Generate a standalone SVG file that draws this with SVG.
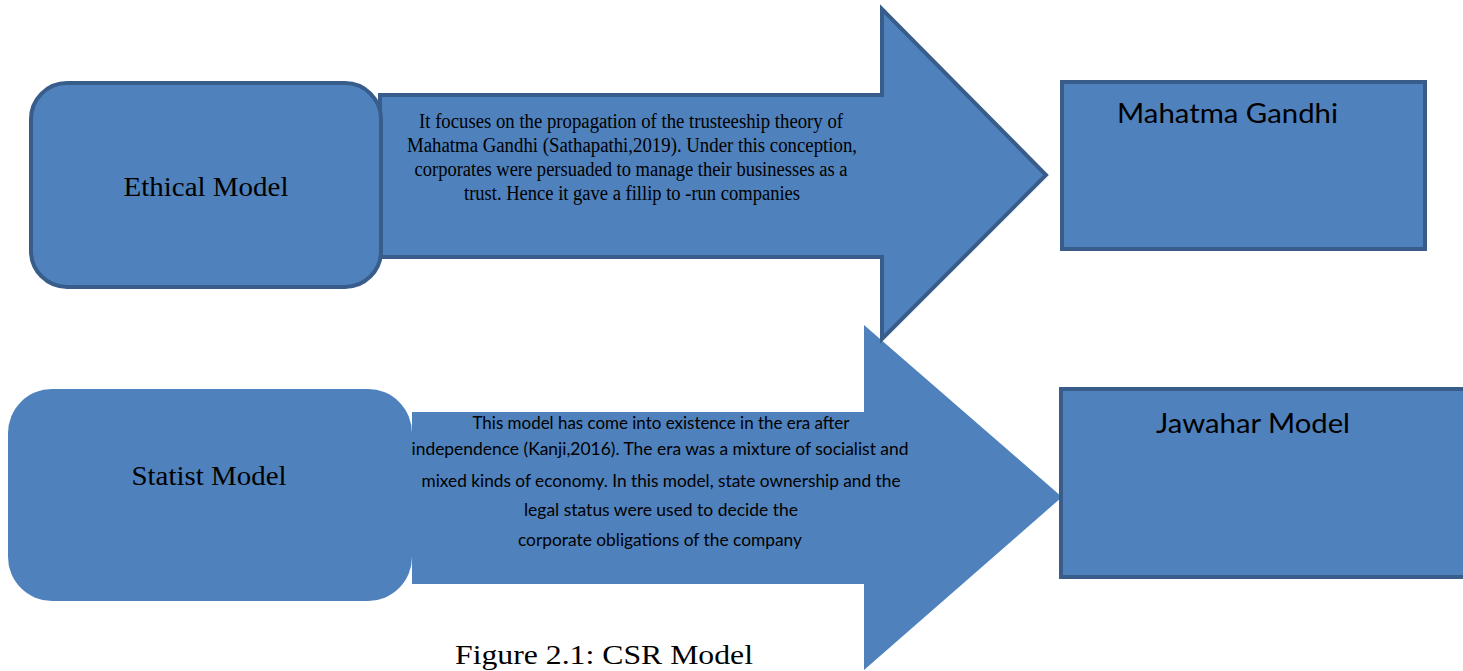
<svg xmlns="http://www.w3.org/2000/svg" width="1463" height="671" viewBox="0 0 1463 671">
  <defs>
    <style>
      .shape { fill: #4f81bd; }
      .edge { stroke: #385d8a; stroke-width: 4; stroke-linejoin: miter; }
      .serif { font-family: "Liberation Serif", "Times New Roman", serif; fill: #000; white-space: pre; }
      .sans { font-family: Lato, "Open Sans", "Liberation Sans", sans-serif; fill: #000; white-space: pre; }
    </style>
  </defs>
  <rect width="1463" height="671" fill="#ffffff"/>

  <!-- block arrows carrying the descriptions -->
  <g id="connectors">
    <g id="arrow-statist">
      <polygon class="shape" points="412,412 864,412 864,325 1062,497 864,670 864,584 412,584"/>
      <g class="sans" font-size="18" text-anchor="middle">
        <text x="661" y="429" textLength="377" lengthAdjust="spacingAndGlyphs">This model has come into existence in the era after</text>
        <text x="660" y="455" textLength="497" lengthAdjust="spacingAndGlyphs">independence (Kanji,2016). The era was a mixture of  socialist and</text>
        <text x="661" y="487" textLength="479" lengthAdjust="spacingAndGlyphs">mixed kinds of economy. In this model, state  ownership and the</text>
        <text x="661" y="516" textLength="274" lengthAdjust="spacingAndGlyphs">legal status were used to  decide the</text>
        <text x="660" y="546" textLength="284" lengthAdjust="spacingAndGlyphs">corporate obligations of the company</text>
      </g>
    </g>
    <g id="arrow-ethical">
      <polygon class="shape edge" points="380,95 882,95 882,9 1046,175 882,339 882,257 380,257"/>
      <g class="serif" font-size="20" text-anchor="middle">
        <text x="631" y="128" textLength="424" lengthAdjust="spacingAndGlyphs">It  focuses on the propagation of the trusteeship theory of</text>
        <text x="632" y="152" textLength="450" lengthAdjust="spacingAndGlyphs">Mahatma Gandhi (Sathapathi,2019).  Under this conception,</text>
        <text x="631" y="176" textLength="433" lengthAdjust="spacingAndGlyphs">corporates were persuaded to manage their businesses as a</text>
        <text x="632" y="200" textLength="336" lengthAdjust="spacingAndGlyphs">trust. Hence it gave a fillip to -run companies</text>
      </g>
    </g>
  </g>

  <g id="node-ethical">
    <rect class="shape edge" x="31" y="83" width="350" height="204" rx="36" ry="36"/>
    <text class="serif" x="206" y="196" font-size="28" text-anchor="middle" textLength="165" lengthAdjust="spacingAndGlyphs">Ethical Model</text>
  </g>

  <g id="node-statist">
    <rect class="shape" x="8" y="389" width="404" height="212" rx="44" ry="44"/>
    <text class="serif" x="209" y="485" font-size="28" text-anchor="middle" textLength="155" lengthAdjust="spacingAndGlyphs">Statist Model</text>
  </g>

  <g id="node-gandhi">
    <rect class="shape edge" x="1062" y="82" width="363" height="167"/>
    <text class="sans" x="1117" y="123" font-size="26" textLength="221" lengthAdjust="spacingAndGlyphs">Mahatma Gandhi</text>
  </g>

  <g id="node-jawahar">
    <rect class="shape edge" x="1061" y="389" width="420" height="188"/>
    <text class="sans" x="1156" y="433" font-size="26" textLength="194" lengthAdjust="spacingAndGlyphs">Jawahar Model</text>
  </g>

  <text id="caption" class="serif" x="455" y="664" font-size="27" textLength="298" lengthAdjust="spacingAndGlyphs">Figure 2.1: CSR Model</text>
</svg>
